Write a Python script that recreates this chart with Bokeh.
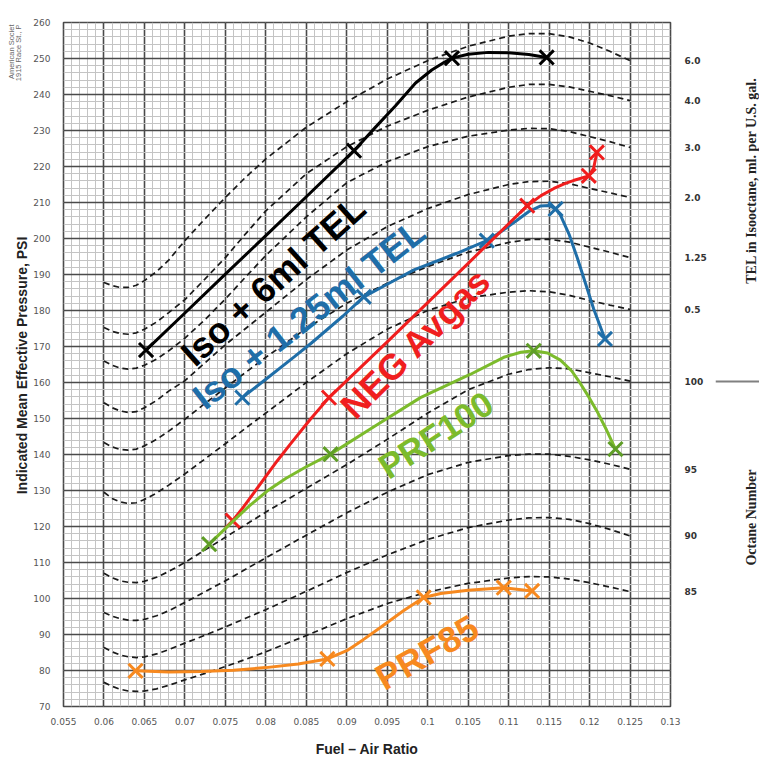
import numpy as np
from bokeh.plotting import figure
from bokeh.layouts import row
from bokeh.models import FixedTicker, LinearAxis, Label, Span
from bokeh.core.properties import value
from bokeh.embed import file_html
from bokeh.resources import INLINE

# ---------------- axes / ticks ----------------
x_ticks = [0.055, 0.06, 0.065, 0.07, 0.075, 0.08, 0.085, 0.09, 0.095, 0.1,
           0.105, 0.11, 0.115, 0.12, 0.125, 0.13]
x_tick_labels = ["0.055", "0.06", "0.065", "0.07", "0.075", "0.08", "0.085", "0.09",
                 "0.095", "0.1", "0.105", "0.11", "0.115", "0.12", "0.125", "0.13"]
y_ticks = [70, 80, 90, 100, 110, 120, 130, 140, 150, 160, 170, 180, 190, 200,
           210, 220, 230, 240, 250, 260]
y_tick_labels = [str(v) for v in y_ticks]

# ---------------- reference (dashed) curves ----------------
ref_names = ["6.0", "4.0", "3.0", "2.0", "1.25", "0.5", "100", "95", "90", "85"]
ref_x = [0.060, 0.061, 0.062, 0.063, 0.064, 0.065, 0.0665, 0.068, 0.070, 0.0725,
         0.075, 0.0775, 0.080, 0.085, 0.090, 0.095, 0.100, 0.105, 0.110, 0.1125,
         0.115, 0.1175, 0.120, 0.1225, 0.125]
ref_tel_6_0 = [187.8, 186.9, 186.4, 186.4, 187.0, 188.3, 190.8, 194.0, 199.4, 205.5,
               211.4, 217.0, 222.1, 230.9, 238.0, 244.3, 249.4, 253.4, 256.2, 256.9,
               256.9, 256.0, 254.3, 252.0, 249.4]
ref_tel_4_0 = [175.3, 174.2, 173.6, 173.4, 173.8, 174.8, 176.8, 179.4, 183.0, 188.8,
               194.7, 201.3, 207.7, 218.0, 225.5, 231.2, 235.6, 239.3, 242.0, 242.8,
               242.8, 242.1, 240.9, 239.7, 238.3]
ref_tel_3_0 = [166.0, 164.8, 164.0, 163.7, 164.0, 164.8, 166.5, 168.8, 172.3, 177.5,
               183.2, 189.3, 195.3, 206.0, 215.5, 221.3, 225.5, 228.4, 230.1, 230.6,
               230.5, 229.7, 228.3, 226.9, 225.3]
ref_tel_2_0 = [154.4, 153.0, 152.1, 151.7, 151.9, 153.0, 155.0, 157.6, 160.5, 165.5,
               170.5, 175.0, 179.5, 188.6, 196.8, 203.3, 208.3, 212.2, 215.0, 215.8,
               215.9, 215.2, 213.9, 212.7, 211.4]
ref_tel_1_25 = [143.3, 142.1, 141.4, 141.2, 141.5, 142.4, 144.2, 146.5, 149.8, 154.2,
                158.5, 162.8, 167.0, 175.0, 182.0, 187.6, 192.2, 196.2, 198.9, 199.7,
                199.8, 199.0, 197.6, 196.2, 194.7]
ref_tel_0_5 = [129.5, 127.8, 126.8, 126.4, 126.6, 127.5, 129.3, 131.5, 134.6, 138.8,
               143.0, 147.3, 151.5, 160.0, 168.0, 174.8, 180.0, 183.5, 185.1, 185.5,
               185.2, 184.2, 182.8, 181.5, 180.3]
ref_on_100 = [107.0, 105.8, 104.9, 104.5, 104.4, 104.8, 105.9, 107.5, 110.0, 113.5,
              117.0, 120.5, 124.0, 130.6, 137.2, 144.2, 151.5, 158.0, 162.3, 163.6,
              164.1, 163.8, 162.7, 161.6, 160.4]
ref_on_95 = [96.1, 95.1, 94.4, 94.0, 93.9, 94.2, 95.2, 96.6, 98.9, 101.9,
             104.9, 108.1, 111.3, 117.6, 123.8, 129.5, 134.4, 137.8, 139.7, 140.1,
             140.1, 139.5, 138.5, 137.3, 135.9]
ref_on_90 = [86.4, 85.2, 84.3, 83.8, 83.6, 83.8, 84.6, 85.8, 87.6, 89.8,
             92.1, 94.5, 96.9, 102.0, 107.2, 112.1, 116.4, 119.7, 121.8, 122.4,
             122.5, 122.0, 120.8, 119.2, 117.4]
ref_on_85 = [76.7, 75.6, 74.8, 74.3, 74.2, 74.3, 74.9, 75.9, 77.4, 79.2,
             81.1, 83.1, 85.2, 89.7, 94.4, 98.6, 101.8, 104.2, 105.7, 106.1,
             106.0, 105.4, 104.4, 103.2, 101.9]
ref_curves = [ref_tel_6_0, ref_tel_4_0, ref_tel_3_0, ref_tel_2_0, ref_tel_1_25,
              ref_tel_0_5, ref_on_100, ref_on_95, ref_on_90, ref_on_85]

# ---------------- measured series ----------------
iso6_line_x = [0.0652, 0.070, 0.075, 0.080, 0.085, 0.0909, 0.0935, 0.096, 0.0985,
               0.1005, 0.102, 0.103, 0.105, 0.1075, 0.110, 0.1125, 0.1147]
iso6_line_y = [169.0, 179.3, 190.1, 200.8, 211.6, 224.4, 230.8, 236.8, 243.2,
               246.8, 248.9, 250.1, 251.2, 251.7, 251.6, 251.1, 250.3]
iso6_pts_x = [0.0652, 0.0909, 0.103, 0.1147]
iso6_pts_y = [169.0, 224.4, 250.1, 250.3]

iso125_line_x = [0.0771, 0.080, 0.0835, 0.0856, 0.0895, 0.0921, 0.095, 0.0983,
                 0.1036, 0.1073, 0.109, 0.111, 0.1125, 0.1139, 0.115, 0.1158,
                 0.1164, 0.1175, 0.1185, 0.1195, 0.1205, 0.1219]
iso125_line_y = [155.8, 160.9, 167.1, 170.9, 178.4, 183.8, 187.3, 191.3,
                 195.9, 199.4, 201.8, 205.0, 207.5, 209.0, 209.2, 208.2,
                 206.5, 201.0, 194.5, 187.5, 180.5, 172.1]
iso125_pts_x = [0.0771, 0.0921, 0.1073, 0.1158, 0.1219]
iso125_pts_y = [155.8, 183.8, 199.4, 208.2, 172.1]

neg_line_x = [0.0759, 0.0772, 0.0785, 0.080, 0.0814, 0.083, 0.0855, 0.0878, 0.090,
              0.095, 0.100, 0.105, 0.1085, 0.1123, 0.114, 0.1156, 0.117, 0.118,
              0.1199, 0.1205, 0.1209]
neg_line_y = [121.6, 125.3, 129.3, 133.9, 138.2, 142.8, 149.8, 155.8, 160.5,
              171.3, 182.2, 193.1, 200.8, 209.1, 211.9, 213.9, 215.3, 216.1,
              217.4, 219.5, 223.9]
neg_pts_x = [0.0759, 0.0878, 0.1123, 0.1199, 0.1209]
neg_pts_y = [121.6, 155.8, 209.1, 217.4, 223.9]

prf100_line_x = [0.073, 0.0755, 0.078, 0.0802, 0.0825, 0.085, 0.088, 0.0935, 0.0991,
                 0.1053, 0.1094, 0.1115, 0.1131, 0.1148, 0.1164, 0.1178, 0.1189,
                 0.1199, 0.1209, 0.1221, 0.1232]
prf100_line_y = [115.1, 120.5, 125.8, 129.9, 133.4, 136.6, 140.1, 147.9, 155.8,
                 162.3, 167.0, 168.4, 168.8, 168.2, 166.2, 163.2, 159.6,
                 156.0, 152.1, 146.8, 141.5]
prf100_pts_x = [0.073, 0.088, 0.1131, 0.1232]
prf100_pts_y = [115.1, 140.1, 168.8, 141.5]

prf85_line_x = [0.0639, 0.068, 0.072, 0.076, 0.080, 0.084, 0.0876, 0.090, 0.092,
                0.0942, 0.097, 0.0995, 0.1016, 0.105, 0.1094, 0.1129]
prf85_line_y = [79.9, 79.6, 79.7, 80.1, 80.8, 81.8, 83.2, 85.5, 88.5,
                92.0, 96.6, 100.3, 101.4, 102.3, 103.0, 102.1]
prf85_pts_x = [0.0639, 0.0876, 0.0995, 0.1094, 0.1129]
prf85_pts_y = [79.9, 83.2, 100.3, 103.0, 102.1]

H = 761
TOP, BOTTOM = 22, 55

# ---------------- main figure ----------------
p = figure(frame_width=607, frame_height=684, x_range=(0.055, 0.13), y_range=(70, 260),
           output_backend="svg", toolbar_location=None,
           min_border_left=33, min_border_right=45, min_border_top=TOP,
           min_border_bottom=BOTTOM)
p.background_fill_color = "white"
p.border_fill_color = "white"
p.outline_line_color = "#4a4a4a"
p.outline_line_width = 1.6

x_minor = list(np.round(np.arange(0.055, 0.13001, 0.001), 4))
y_minor = list(np.arange(70, 261, 2))
xt = FixedTicker(ticks=x_ticks, minor_ticks=x_minor)
yt = FixedTicker(ticks=y_ticks, minor_ticks=y_minor)
p.xaxis.ticker = xt
p.yaxis.ticker = yt
p.xgrid.ticker = xt
p.ygrid.ticker = yt
for g in (p.xgrid, p.ygrid):
    g.grid_line_color = "#4a4a4a"
    g.grid_line_width = 1.6
    g.minor_grid_line_color = "#c4c4c4"
    g.minor_grid_line_width = 1

p.xaxis.major_label_overrides = dict(zip(x_ticks, x_tick_labels))
p.yaxis.major_label_overrides = dict(zip(y_ticks, y_tick_labels))
for ax in (p.xaxis, p.yaxis):
    ax.axis_line_color = None
    ax.major_tick_line_color = None
    ax.minor_tick_line_color = None
    ax.major_tick_out = 0
    ax.major_tick_in = 0
    ax.major_label_text_font = "DejaVu Sans"
    ax.major_label_text_font_size = "9px"
    ax.major_label_text_color = "#555555"
p.xaxis.major_label_standoff = 7
p.yaxis.major_label_standoff = 9
p.xaxis.axis_label = "Fuel \u2013 Air Ratio"
p.xaxis.axis_label_text_font = "Liberation Sans"
p.xaxis.axis_label_text_font_style = "bold"
p.xaxis.axis_label_text_font_size = "14px"
p.xaxis.axis_label_text_color = "#222222"
p.xaxis.axis_label_standoff = 13

# right axis with the curve names at curve ends
ref_ends = [c[-1] for c in ref_curves]
rax = LinearAxis(ticker=FixedTicker(ticks=ref_ends),
                 major_label_overrides=dict(zip(ref_ends, ref_names)))
rax.axis_line_color = None
rax.major_tick_line_color = None
rax.minor_tick_line_color = None
rax.major_tick_out = 0
rax.major_tick_in = 0
rax.major_label_standoff = 14
rax.major_label_text_font = "DejaVu Sans"
rax.major_label_text_font_style = "bold"
rax.major_label_text_font_size = "9px"
rax.major_label_text_color = "#333333"
p.add_layout(rax, "right")

# dashed reference curves
for ys in ref_curves:
    p.line(ref_x, ys, line_color="#1a1a1a", line_width=1.7, line_dash="6 4")

# series
series = [
    (iso6_line_x, iso6_line_y, iso6_pts_x, iso6_pts_y, "#000000", "#000000"),
    (iso125_line_x, iso125_line_y, iso125_pts_x, iso125_pts_y, "#1f6ea8", "#1f6ea8"),
    (neg_line_x, neg_line_y, neg_pts_x, neg_pts_y, "#f01e1e", "#f01e1e"),
    (prf100_line_x, prf100_line_y, prf100_pts_x, prf100_pts_y, "#7cbb2c", "#5f9e27"),
    (prf85_line_x, prf85_line_y, prf85_pts_x, prf85_pts_y, "#f7891f", "#f7891f"),
]
for lx, ly, mx, my, lc, mc in series:
    p.line(lx, ly, line_color=lc, line_width=3)
    p.scatter(mx, my, marker="x", size=20, line_color=mc, line_width=3)

def big(text, x, y, deg, color, size="36px"):
    p.add_layout(Label(x=x, y=y, text=text, angle=np.radians(deg), text_align="center",
                       text_baseline="middle", text_font="Liberation Sans",
                       text_font_style="bold", text_font_size=size, text_color=color))

big("Iso + 6ml TEL", 0.0809, 188.3, 42.0, "#000000")
big("Iso + 1.25ml TEL", 0.0853, 179.0, 38.0, "#1f6ea8")
big("NEG Avgas", 0.0985, 170.9, 45.0, "#f01e1e")
big("PRF100", 0.1010, 145.5, 33.0, "#7cbb2c", "35px")
big("PRF85", 0.0999, 85.0, 30.0, "#f7891f")

# side strips: their frames are aligned with the main frame (py 22..706);
# y in these strips = window height - pixel row
def strip(width):
    s = figure(width=width, height=H, x_range=(0, width), y_range=(BOTTOM, H - TOP),
               output_backend="svg", toolbar_location=None,
               x_axis_location=None, y_axis_location=None,
               min_border_left=0, min_border_right=0,
               min_border_top=TOP, min_border_bottom=BOTTOM)
    s.grid.visible = False
    s.outline_line_color = None
    s.background_fill_color = "white"
    s.border_fill_color = "white"
    return s

left = strip(30)
left.text(x=[21], y=[H - 365], text=["Indicated Mean Effective Pressure, PSI"],
          angle=np.pi / 2, text_align="center", text_baseline="middle",
          text_font=value("Liberation Sans"), text_font_style="bold",
          text_font_size="14px", text_color="#222222")
left.text(x=[11, 18], y=[H - 24, H - 24], text=["American Societ", "1915 Race St., P"],
          angle=np.pi / 2, text_align="right", text_baseline="middle",
          text_font=value("Liberation Sans"), text_font_size="7.5px",
          text_color="#666666")

right = strip(44)
right.text(x=[36, 36], y=[H - 180, H - 517],
           text=["TEL in Isooctane, ml. per U.S. gal.", "Octane Number"],
           angle=np.pi / 2, text_align="center", text_baseline="middle",
           text_font=value("Liberation Serif"), text_font_style="bold",
           text_font_size="14px", text_color="#222222")
right.add_layout(Span(location=H - 381, dimension="width", line_color="#808080",
                      line_width=2))

layout = row(left, p, right, spacing=0)
open("out.html", "w").write(file_html(layout, INLINE))
